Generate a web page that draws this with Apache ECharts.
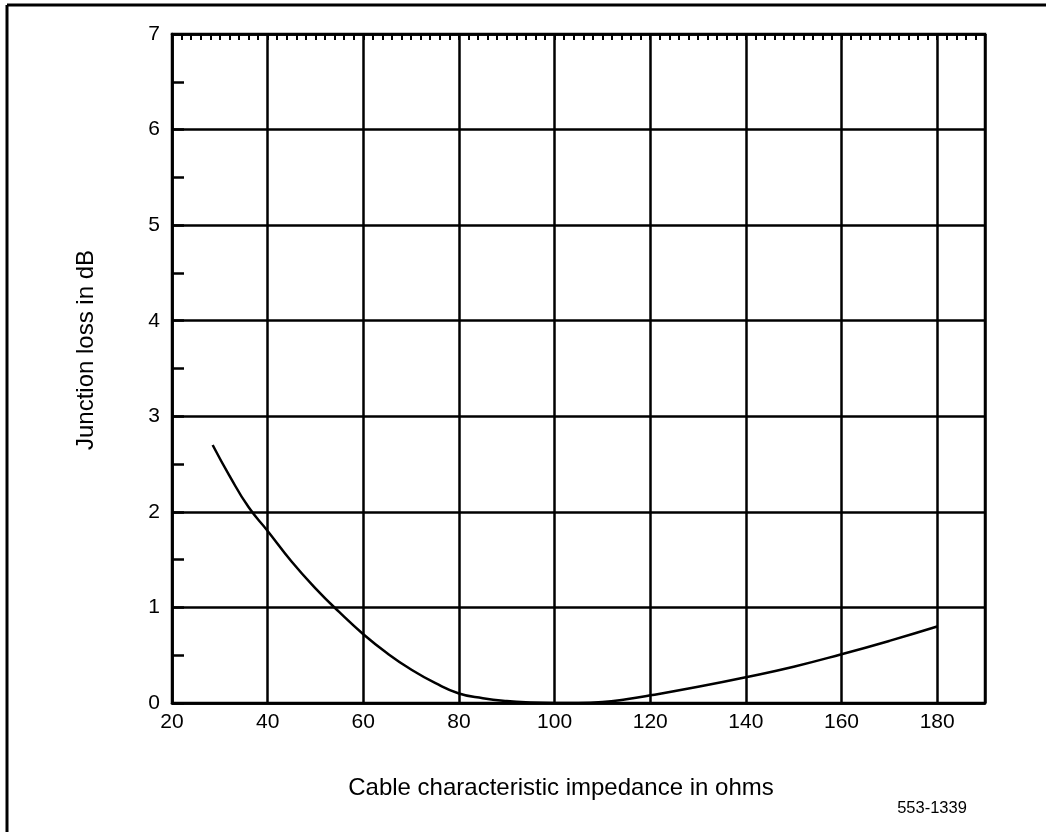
<!DOCTYPE html>
<html>
<head>
<meta charset="utf-8">
<script src="https://cdn.jsdelivr.net/npm/echarts@6/dist/echarts.min.js"></script>
<style>html,body{margin:0;padding:0;background:#fff;}#c{width:1046px;height:832px;}</style>
</head>
<body>
<div id="c"></div>
<script>
var impedance = [28.5, 32, 36, 40, 45, 50, 55, 60, 65, 70, 75, 80, 85, 90, 95, 100, 105, 110, 115, 120, 130, 140, 150, 160, 170, 180];
var loss      = [2.70, 2.38, 2.05, 1.80, 1.48, 1.20, 0.95, 0.72, 0.52, 0.35, 0.21, 0.10, 0.05, 0.02, 0.005, 0.0, 0.0, 0.01, 0.04, 0.08, 0.17, 0.27, 0.38, 0.51, 0.65, 0.80];
var xTitle = 'Cable characteristic impedance in ohms';
var yTitle = 'Junction loss in dB';
var figId = '553-1339';

var font = 'Liberation Sans, Arial, sans-serif';
var chart = echarts.init(document.getElementById('c'));
var data = impedance.map(function (x, i) { return [x, loss[i]]; });
var lw = 2.5;
chart.setOption({
  animation: false,
  backgroundColor: '#fff',
  grid: { left: 172, right: 61, top: 34, bottom: 129, show: true, borderColor: '#000', borderWidth: lw, backgroundColor: 'transparent' },
  xAxis: [{
    type: 'value', min: 20, max: 190, interval: 20, position: 'bottom',
    axisLine: { show: true, onZero: false, lineStyle: { color: '#000', width: lw } },
    axisTick: { show: false },
    axisLabel: { color: '#000', fontSize: 21, fontFamily: font, margin: 9, showMaxLabel: false },
    splitLine: { show: true, lineStyle: { color: '#000', width: lw } }
  }, {
    type: 'value', min: 20, max: 190, interval: 2, position: 'top',
    axisLine: { show: true, onZero: false, lineStyle: { color: '#000', width: lw } },
    axisTick: { show: true, inside: true, length: 6, lineStyle: { color: '#000', width: 2 } },
    axisLabel: { show: false },
    splitLine: { show: false }
  }],
  yAxis: [{
    type: 'value', min: 0, max: 7, interval: 1, position: 'left',
    axisLine: { show: true, onZero: false, lineStyle: { color: '#000', width: lw } },
    axisTick: { show: false },
    axisLabel: { color: '#000', fontSize: 21, fontFamily: font, margin: 12 },
    splitLine: { show: true, lineStyle: { color: '#000', width: lw } }
  }, {
    type: 'value', min: 0, max: 7, interval: 0.5, position: 'left',
    axisLine: { show: false, onZero: false },
    axisTick: { show: true, inside: true, length: 12, lineStyle: { color: '#000', width: lw } },
    axisLabel: { show: false },
    splitLine: { show: false }
  }],
  series: [{
    type: 'line', xAxisIndex: 0, yAxisIndex: 0, data: data, smooth: true,
    showSymbol: false, lineStyle: { color: '#000', width: 2.5 }, z: 5
  }],
  graphic: [
    { type: 'line', shape: { x1: 7, y1: 5, x2: 1046, y2: 5 }, style: { stroke: '#000', lineWidth: 3 } },
    { type: 'line', shape: { x1: 7, y1: 5, x2: 7, y2: 832 }, style: { stroke: '#000', lineWidth: 3 } },
    { type: 'text', x: 86, y: 350, rotation: Math.PI / 2, style: { x: 0, y: 0, text: yTitle, fontSize: 24, fontFamily: font, fill: '#000', textAlign: 'center', textVerticalAlign: 'middle' } },
    { type: 'text', x: 561, y: 788, style: { x: 0, y: 0, text: xTitle, fontSize: 24, fontFamily: font, fill: '#000', textAlign: 'center', textVerticalAlign: 'middle' } },
    { type: 'text', x: 932, y: 808, style: { x: 0, y: 0, text: figId, fontSize: 16.5, fontFamily: font, fill: '#000', textAlign: 'center', textVerticalAlign: 'middle' } }
  ]
});
</script>
</body>
</html>
